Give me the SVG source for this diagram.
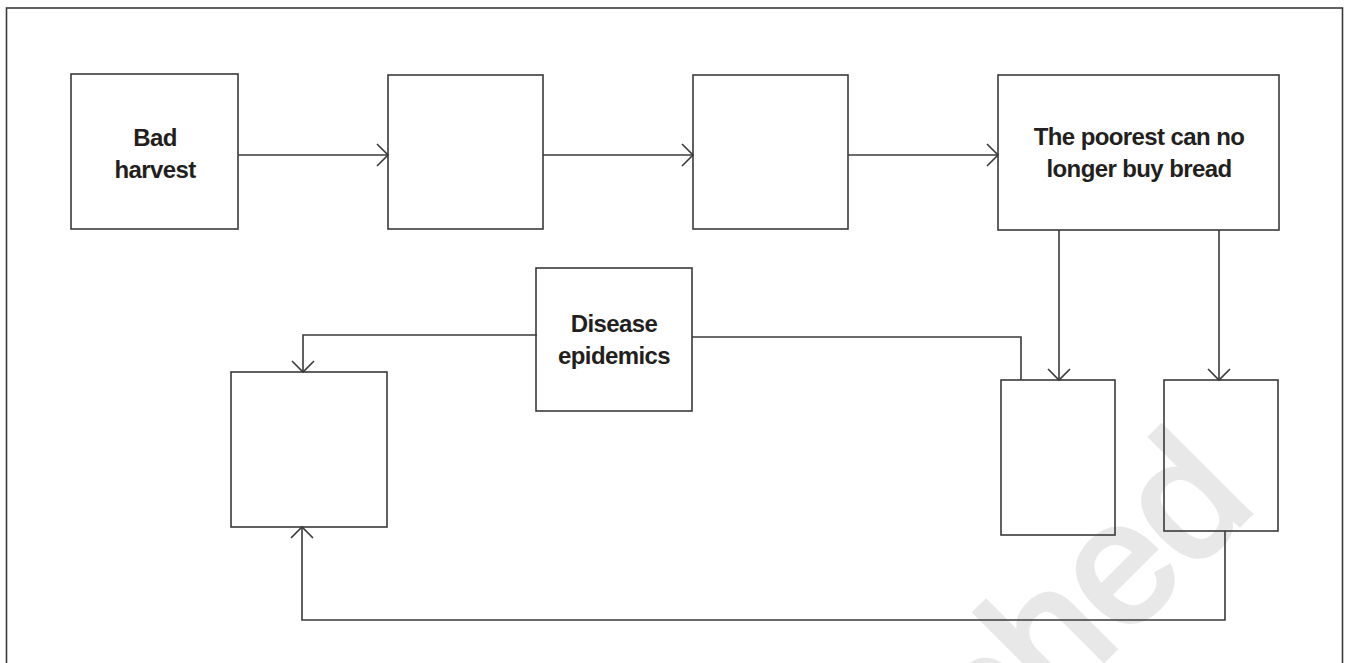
<svg xmlns="http://www.w3.org/2000/svg" width="1348" height="663" viewBox="0 0 1348 663">
<style>
.box{fill:none;stroke:#3a3a3a;stroke-width:1.6}
.frame{fill:none;stroke:#3a3a3a;stroke-width:1.6}
.con{fill:none;stroke:#3a3a3a;stroke-width:1.6}
.lbl{font-family:"Liberation Sans",Arial,sans-serif;font-weight:bold;font-size:24px;letter-spacing:-0.6px;fill:#231f20;text-anchor:middle}
.wm{font-family:"Liberation Sans",Arial,sans-serif;font-weight:normal;font-size:172px;fill:#e8e8e8;text-anchor:end;stroke:#e8e8e8;stroke-width:5}
</style>
<defs>
<marker id="arr" markerUnits="userSpaceOnUse" markerWidth="30" markerHeight="30" refX="0" refY="0" orient="auto" overflow="visible">
<path d="M-11,-11 L0,0 L-11,11" fill="none" stroke="#3a3a3a" stroke-width="1.6"/>
</marker>
</defs>
<rect width="1348" height="663" fill="#fff"/>
<text class="wm" transform="translate(1258,506) rotate(-45)">republished</text>
<rect class="frame" x="6.5" y="8" width="1336" height="720"/>
<g id="connectors">
<path class="con" d="M238,155 H388" marker-end="url(#arr)"/>
<path class="con" d="M543,155 H693" marker-end="url(#arr)"/>
<path class="con" d="M848,155 H998" marker-end="url(#arr)"/>
<path class="con" d="M1059,230 V380" marker-end="url(#arr)"/>
<path class="con" d="M1219,230 V380" marker-end="url(#arr)"/>
<path class="con" d="M537,335 H303 V372" marker-end="url(#arr)"/>
<path class="con" d="M692,337 H1021 V380"/>
<path class="con" d="M1225,531 V620 H302 V527" marker-end="url(#arr)"/>
</g>
<g id="bad-harvest">
<rect class="box" x="71" y="74" width="167" height="155"/>
<text class="lbl" x="155" y="146">Bad</text>
<text class="lbl" x="155" y="178">harvest</text>
</g>
<g id="box2"><rect class="box" x="388" y="75" width="155" height="154"/></g>
<g id="box3"><rect class="box" x="693" y="75" width="155" height="154"/></g>
<g id="poorest">
<rect class="box" x="998" y="75" width="281" height="155"/>
<text class="lbl" x="1139" y="145">The poorest can no</text>
<text class="lbl" x="1139" y="177">longer buy bread</text>
</g>
<g id="box5"><rect class="box" x="1001" y="380" width="114" height="155"/></g>
<g id="box6"><rect class="box" x="1164" y="380" width="114" height="151"/></g>
<g id="box7"><rect class="box" x="231" y="372" width="156" height="155"/></g>
<g id="disease">
<rect class="box" x="536" y="268" width="156" height="143"/>
<text class="lbl" x="614" y="332">Disease</text>
<text class="lbl" x="614" y="364">epidemics</text>
</g>
</svg>
